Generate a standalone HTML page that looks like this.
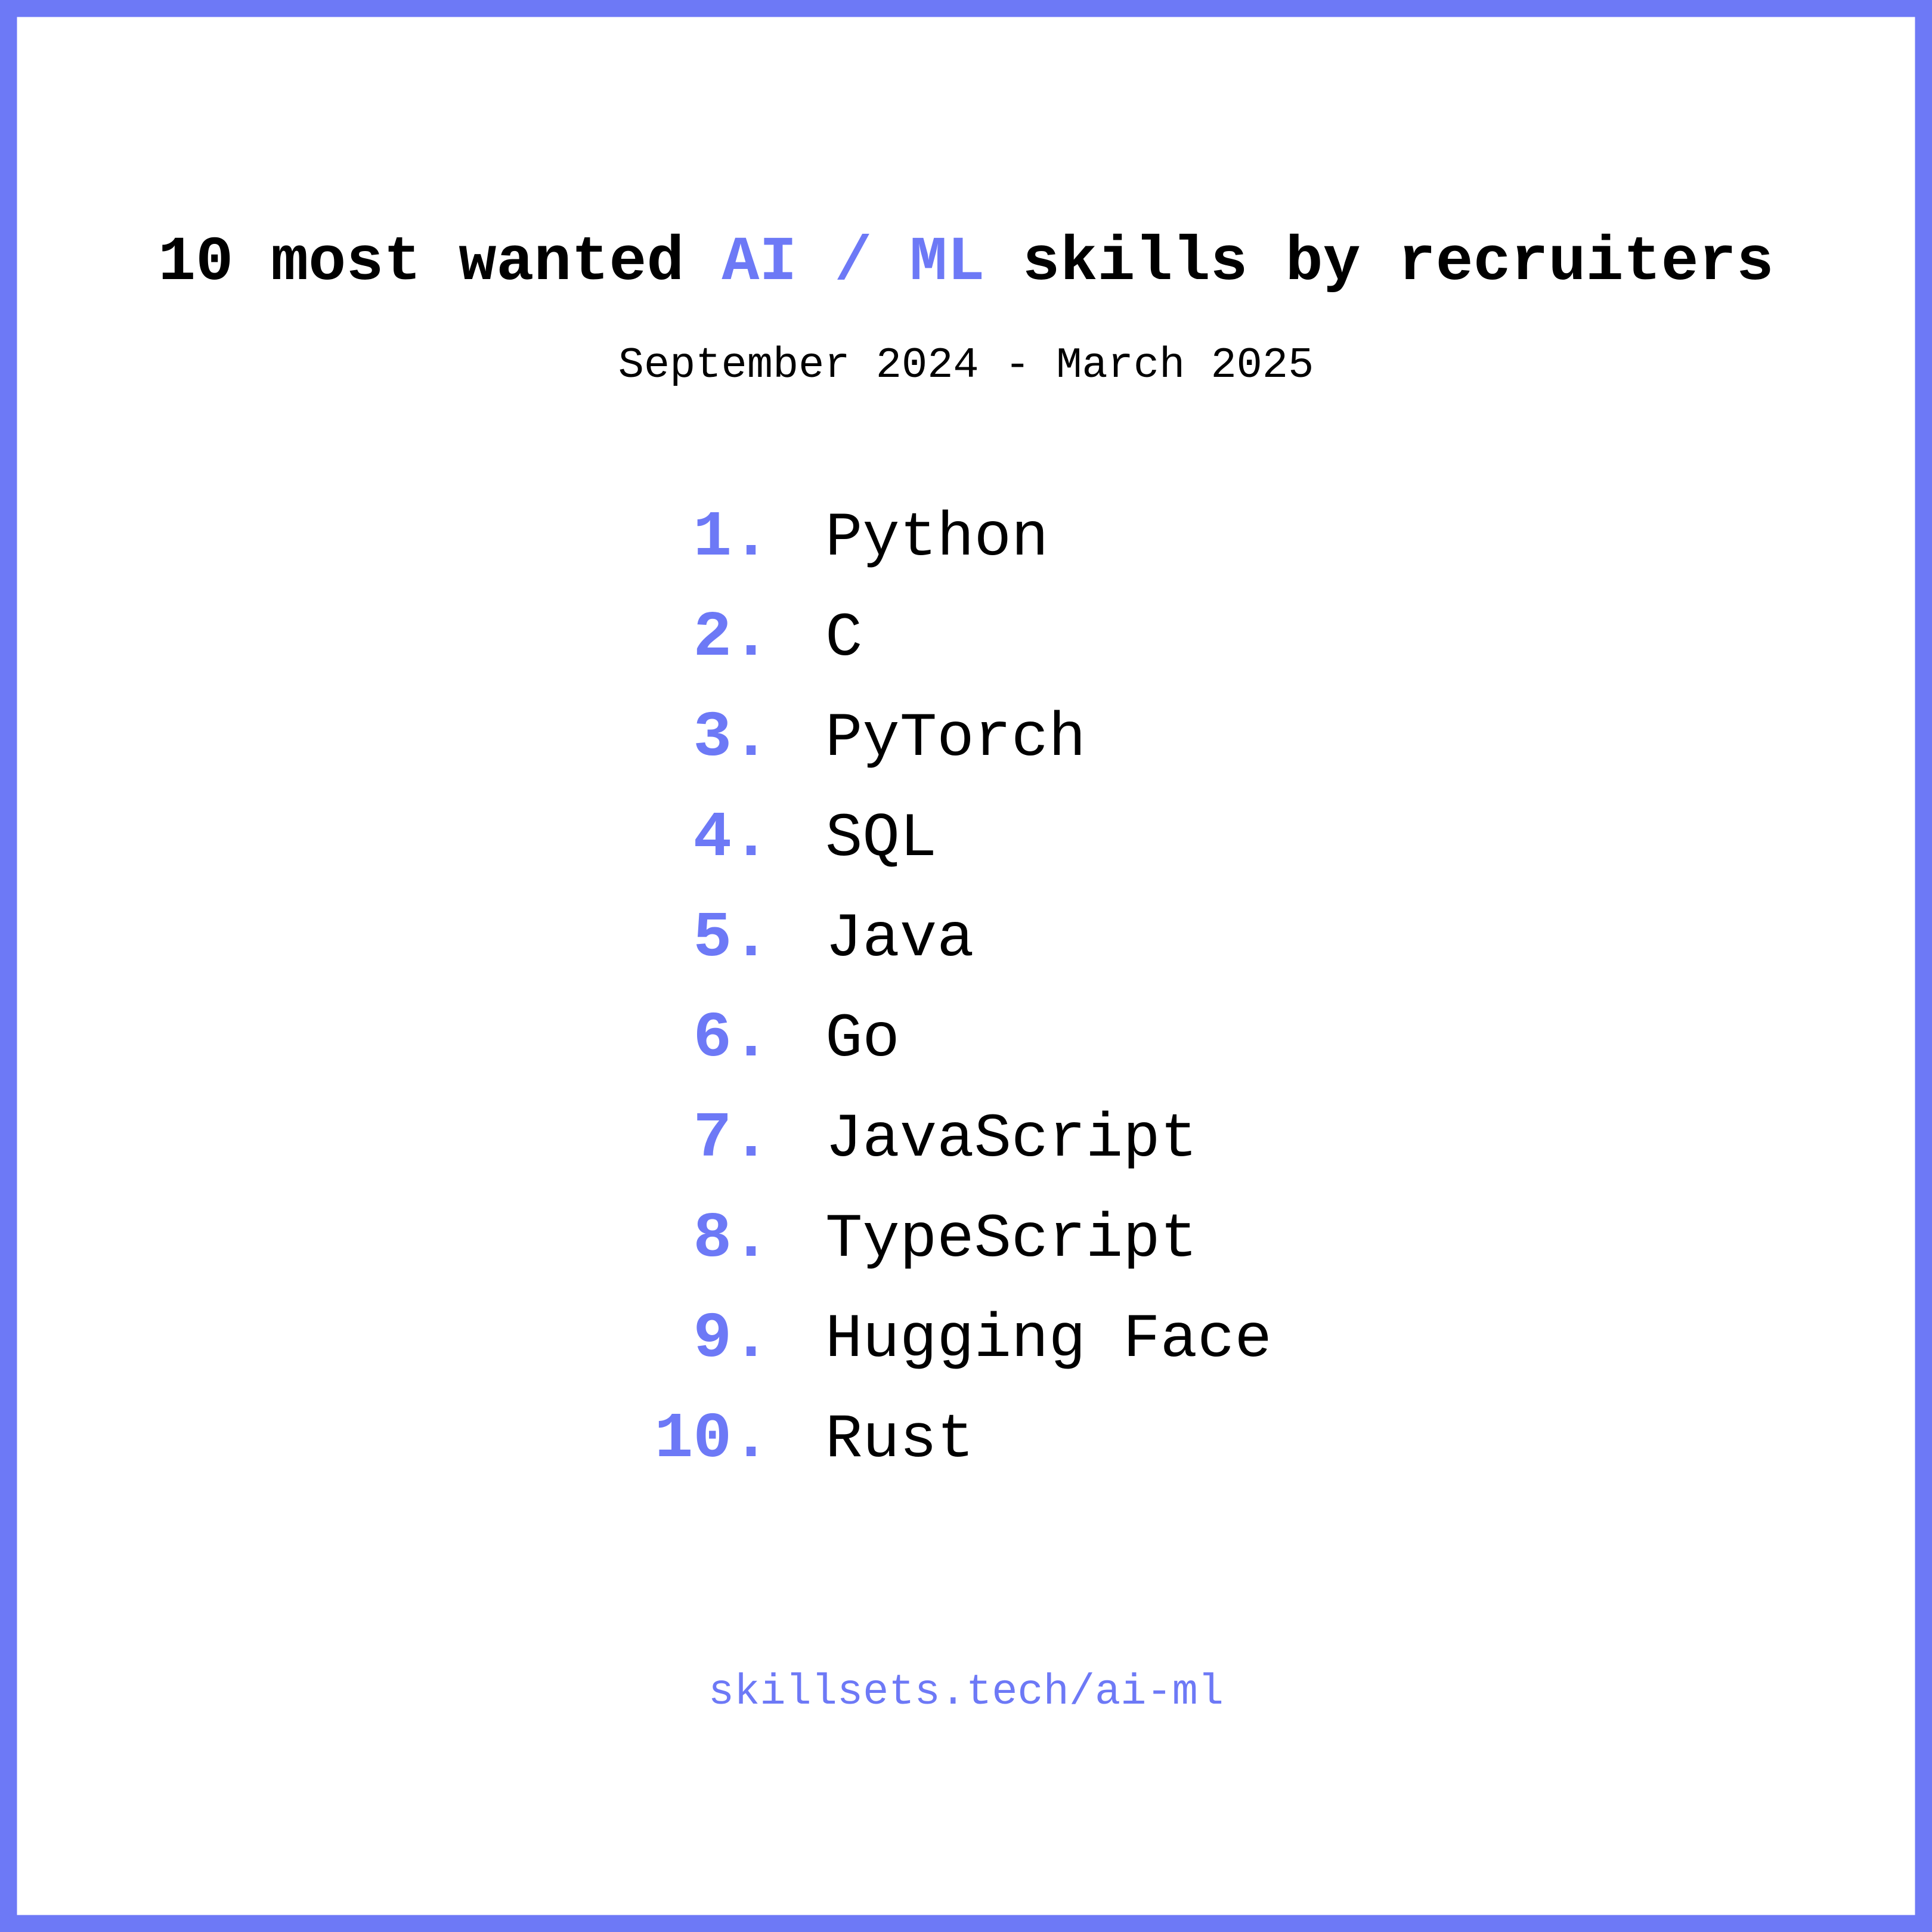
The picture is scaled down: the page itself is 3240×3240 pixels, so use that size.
<!DOCTYPE html>
<html><head><meta charset="utf-8"><style>
html,body{margin:0;padding:0;background:#fff}
svg{display:block}
text{font-family:"Liberation Mono","DejaVu Sans Mono",monospace}
</style></head><body>
<svg id="chart" width="3240" height="3240" viewBox="0 0 3240 3240">
<rect x="14" y="14" width="3212" height="3212" fill="#fff" stroke="#6d79f6" stroke-width="29"/>
<text x="1620" y="468" text-anchor="middle" font-size="105" font-weight="bold" fill="#000">10 most wanted <tspan fill="#6d79f6">AI / ML</tspan> skills by recruiters</text>
<text x="1620" y="632" text-anchor="middle" font-size="72" fill="#000">September 2024 - March 2025</text>
<g id="list"></g>
<text x="1620" y="2857" text-anchor="middle" font-size="72" fill="#6d79f6">skillsets.tech/ai-ml</text>
</svg>
<script>
const ranks = [1,2,3,4,5,6,7,8,9,10];
const skills = ["Python","C","PyTorch","SQL","Java","Go","JavaScript","TypeScript","Hugging Face","Rust"];
const g = document.getElementById('list');
const ns = 'http://www.w3.org/2000/svg';
const y0 = 930, step = 168;
ranks.forEach((r,i)=>{
  const y = y0 + i*step;
  const n = document.createElementNS(ns,'text');
  n.setAttribute('x', 1292);
  n.setAttribute('y', y);
  n.setAttribute('text-anchor','end');
  n.setAttribute('font-size', 108);
  n.setAttribute('font-weight','bold');
  n.setAttribute('fill','#6d79f6');
  n.textContent = r + '.';
  
  
  g.appendChild(n);
  const t = document.createElementNS(ns,'text');
  t.setAttribute('x', 1384);
  t.setAttribute('y', y);
  t.setAttribute('font-size', 104);
  t.setAttribute('fill','#000');
  t.textContent = skills[i];
  
  
  g.appendChild(t);
});
</script>
</body></html>
